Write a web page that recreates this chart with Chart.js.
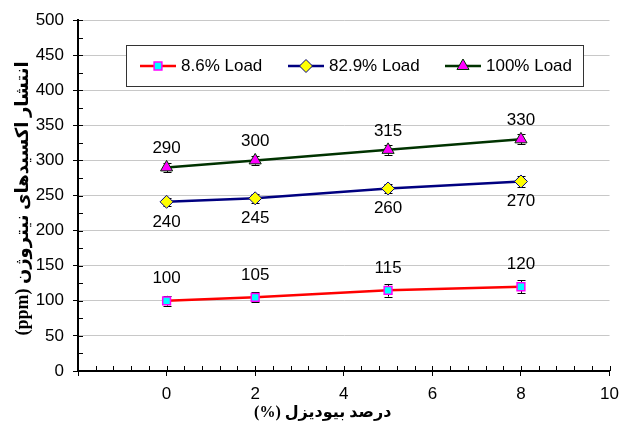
<!DOCTYPE html>
<html>
<head>
<meta charset="utf-8">
<script src="https://cdn.jsdelivr.net/npm/chart.js@4/dist/chart.umd.min.js"></script>
<style>
  html, body { margin: 0; padding: 0; background: #fff; }
  canvas { display: block; }
</style>
</head>
<body>
<canvas id="chart" width="627" height="425"></canvas>
<script>
// biodiesel percentage (x)
const biodiesel = [0, 2, 5, 8];

// NOx emission (ppm) per engine load
const load86 = [100, 105, 115, 120];
const load829 = [241, 246, 260, 270];
const load100 = [290, 300, 315, 330];

// printed labels
const labels86 = ["100", "105", "115", "120"];
const labels829 = ["240", "245", "260", "270"];
const labels100 = ["290", "300", "315", "330"];

// error bar half-heights (ppm)
const err86 = [7, 7, 9, 9];
const err829 = [6, 6, 7, 8];
const err100 = [7, 6, 7, 7];

const seriesNames = ["8.6% Load", "82.9% Load", "100% Load"];
const xTicks = [0, 2, 4, 6, 8, 10];

const yTitle = "انتشار اکسیدهای نیتروژن (ppm)";
const xTitle = "درصد بیودیزل (%)";

const tickFont = "17px 'Liberation Sans', Arial, sans-serif";
const xTitleFont = "bold 16px 'Liberation Serif', 'DejaVu Sans', sans-serif";
const yTitleFont = "bold 18px 'Liberation Serif', 'DejaVu Sans', sans-serif";

const toPoints = (vals) => vals.map((v, i) => ({ x: biodiesel[i], y: v }));

const extras = {
  errors: [err86, err829, err100],
  labels: [labels86, labels829, labels100],
  labelOffset: [-22, 20, -19],
};

// error bars, drawn under the markers
const errorBarPlugin = {
  id: "errorBars",
  beforeDatasetsDraw(chart) {
    const c = chart.ctx;
    const xs = chart.scales.x;
    const ys = chart.scales.y;
    c.save();
    c.strokeStyle = "#000";
    c.lineWidth = 1;
    chart.data.datasets.forEach((ds, d) => {
      ds.data.forEach((p, i) => {
        const e = extras.errors[d][i];
        const px = Math.round(xs.getPixelForValue(p.x)) + 0.5;
        const top = ys.getPixelForValue(p.y + e);
        const bot = ys.getPixelForValue(p.y - e);
        c.beginPath();
        c.moveTo(px, top);
        c.lineTo(px, bot);
        c.moveTo(px - 4, Math.round(top) + 0.5);
        c.lineTo(px + 4, Math.round(top) + 0.5);
        c.moveTo(px - 4, Math.round(bot) + 0.5);
        c.lineTo(px + 4, Math.round(bot) + 0.5);
        c.stroke();
      });
    });
    c.restore();
  },
};

// value labels, minor ticks, axis titles, legend box
const decorPlugin = {
  id: "decor",
  afterDatasetsDraw(chart) {
    const c = chart.ctx;
    const xs = chart.scales.x;
    const ys = chart.scales.y;
    const area = chart.chartArea;
    c.save();

    // value labels
    c.font = tickFont;
    c.fillStyle = "#000";
    c.textAlign = "center";
    c.textBaseline = "middle";
    chart.data.datasets.forEach((ds, d) => {
      ds.data.forEach((p, i) => {
        const px = xs.getPixelForValue(p.x);
        const py = ys.getPixelForValue(p.y) + extras.labelOffset[d];
        c.fillText(extras.labels[d][i], px, py);
      });
    });

    // inner tick marks (major + minor)
    c.strokeStyle = "#000";
    c.lineWidth = 1;
    c.beginPath();
    for (let v = 0; v <= 500; v += 25) {
      const py = Math.round(ys.getPixelForValue(v)) + 0.5;
      c.moveTo(area.left, py);
      c.lineTo(area.left + 5, py);
    }
    for (let k = 0; k <= 30; k++) {
      const v = -2 + k * 0.4;
      const px = Math.round(xs.getPixelForValue(v)) + 0.5;
      c.moveTo(px, area.bottom);
      c.lineTo(px, area.bottom - 5);
    }
    c.stroke();

    // axis titles (right-to-left text)
    c.fillStyle = "#000";
    c.textAlign = "center";
    c.textBaseline = "middle";
    c.direction = "rtl";
    c.font = xTitleFont;
    c.fillText(xTitle, (area.left + area.right) / 2 - 21, 413);
    c.save();
    c.translate(23, (area.top + area.bottom) / 2 + 3);
    c.rotate(-Math.PI / 2);
    c.font = yTitleFont;
    c.fillText(yTitle, 0, 0);
    c.restore();
    c.direction = "ltr";

    // legend
    const box = { left: 126, top: 45, right: 583, bottom: 86 };
    c.fillStyle = "#fff";
    c.fillRect(box.left, box.top, box.right - box.left, box.bottom - box.top);
    c.strokeStyle = "#333";
    c.lineWidth = 1;
    c.strokeRect(box.left + 0.5, box.top + 0.5, box.right - box.left, box.bottom - box.top);
    const starts = [140, 288, 445];
    const midY = 66;
    chart.data.datasets.forEach((ds, d) => {
      const x0 = starts[d];
      c.strokeStyle = ds.borderColor;
      c.lineWidth = ds.borderWidth;
      c.beginPath();
      c.moveTo(x0, midY);
      c.lineTo(x0 + 36, midY);
      c.stroke();
      c.fillStyle = ds.pointBackgroundColor;
      c.strokeStyle = ds.pointBorderColor;
      c.lineWidth = ds.pointBorderWidth;
      Chart.helpers.drawPoint(c, {
        pointStyle: ds.pointStyle,
        radius: ds.pointRadius,
        rotation: ds.pointRotation || 0,
        borderWidth: ds.pointBorderWidth,
      }, x0 + 18, midY);
      c.fillStyle = "#000";
      c.font = tickFont;
      c.textAlign = "left";
      c.textBaseline = "middle";
      c.fillText(ds.label, x0 + 41, midY);
    });

    c.restore();
  },
};

new Chart(document.getElementById("chart"), {
  type: "line",
  data: {
    datasets: [
      {
        label: seriesNames[0],
        data: toPoints(load86),
        borderColor: "#ff0000",
        borderWidth: 2.5,
        pointStyle: "rect",
        pointRadius: 5.5,
        pointBackgroundColor: "#00ffff",
        pointBorderColor: "#ff00ff",
        pointBorderWidth: 1.5,
      },
      {
        label: seriesNames[1],
        data: toPoints(load829),
        borderColor: "#000080",
        borderWidth: 2.5,
        pointStyle: "rectRot",
        pointRadius: 6.5,
        pointBackgroundColor: "#ffff00",
        pointBorderColor: "#000080",
        pointBorderWidth: 1,
      },
      {
        label: seriesNames[2],
        data: toPoints(load100),
        borderColor: "#003300",
        borderWidth: 2.5,
        pointStyle: "triangle",
        pointRadius: 7,
        pointBackgroundColor: "#ff00ff",
        pointBorderColor: "#003300",
        pointBorderWidth: 1,
      },
    ],
  },
  options: {
    responsive: false,
    animation: false,
    devicePixelRatio: 1,
    layout: { padding: { top: 20, right: 9, left: 0, bottom: 0 } },
    plugins: {
      legend: { display: false },
      tooltip: { enabled: false },
    },
    elements: { line: { tension: 0 } },
    scales: {
      x: {
        type: "linear",
        min: -2,
        max: 10,
        afterBuildTicks: (s) => {
          s.ticks = [-2].concat(xTicks).map((v) => ({ value: v }));
        },
        afterFit: (s) => { s.height = 54; },
        ticks: {
          color: "#000",
          font: { family: "'Liberation Sans', Arial, sans-serif", size: 17 },
          padding: 8,
          maxRotation: 0,
          autoSkip: false,
          callback: (v) => (v < 0 ? "" : v),
        },
        grid: {
          drawOnChartArea: false,
          tickColor: "#000",
          tickLength: 5,
        },
        border: { color: "#000", width: 2 },
      },
      y: {
        min: 0,
        max: 500,
        afterFit: (s) => { s.width = 78; },
        ticks: {
          stepSize: 50,
          color: "#000",
          font: { family: "'Liberation Sans', Arial, sans-serif", size: 17 },
          padding: 9,
        },
        grid: {
          color: "#c8c8c8",
          lineWidth: 1,
          tickColor: "#000",
          tickLength: 5,
        },
        border: { color: "#000", width: 2 },
      },
    },
  },
  plugins: [errorBarPlugin, decorPlugin],
});
</script>
</body>
</html>
